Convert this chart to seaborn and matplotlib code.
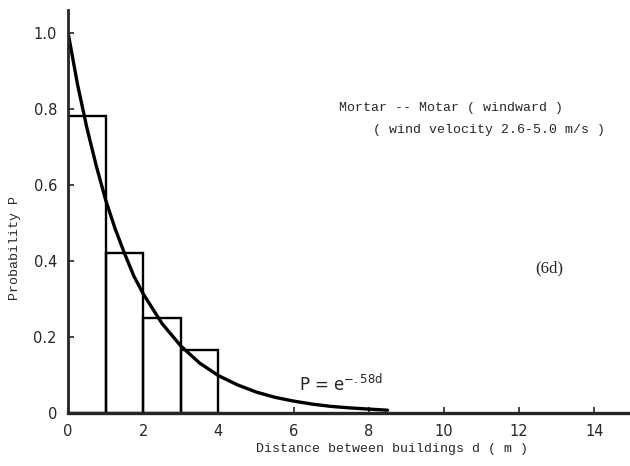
import numpy as np
import pandas as pd
import seaborn as sns
import matplotlib.pyplot as plt

# histogram classes (left edge of each 1 m bin) and observed probability
bin_left = [0, 1, 2, 3]
bin_prob = [0.78, 0.42, 0.25, 0.165]

# fitted curve P = e^-.58d
curve_d = [0, 0.25, 0.5, 0.75, 1, 1.25, 1.5, 1.75, 2, 2.5, 3, 3.5, 4,
           4.5, 5, 5.5, 6, 6.5, 7, 7.5, 8, 8.5]
curve_p = [1.0, 0.865, 0.75, 0.65, 0.56, 0.485, 0.42, 0.36, 0.313, 0.235,
           0.176, 0.131, 0.098, 0.074, 0.055, 0.041, 0.031, 0.023, 0.017,
           0.013, 0.01, 0.007]

x_ticks = [0, 2, 4, 6, 8, 10, 12, 14]
x_labels = ['0', '2', '4', '6', '8', '10', '12', '14']
y_ticks = [0, 0.2, 0.4, 0.6, 0.8, 1.0]
y_labels = ['0', '0.2', '0.4', '0.6', '0.8', '1.0']

sns.set_style('ticks')
plt.rcParams['font.family'] = ['DejaVu Sans']

fig = plt.figure(figsize=(6.3, 4.66), dpi=100)
ax = fig.add_axes([0.108, 0.114, 0.892, 0.865])

# histogram bars
ax.bar(bin_left, bin_prob, width=1, align='edge', fill=False,
       edgecolor='black', linewidth=1.7)

# fitted exponential curve
df = pd.DataFrame({'d': curve_d, 'P': curve_p})
sns.lineplot(data=df, x='d', y='P', ax=ax, color='black', linewidth=2.4)

ax.set_xlim(0, 14.95)
ax.set_ylim(0, 1.06)
ax.set_xticks(x_ticks)
ax.set_xticklabels(x_labels)
ax.set_yticks(y_ticks)
ax.set_yticklabels(y_labels)
ax.tick_params(direction='in', length=4, width=1.2, labelsize=10.5, pad=8)

for side in ['top', 'right']:
    ax.spines[side].set_visible(False)
ax.spines['left'].set_linewidth(2)
ax.spines['bottom'].set_linewidth(2.4)

ax.set_xlabel('Distance between buildings d ( m )', family='Liberation Mono',
              fontsize=9.5)
ax.xaxis.set_label_coords(0.577, -0.075)
ax.set_ylabel('Probability P', family='Liberation Mono', fontsize=9.5)
ax.yaxis.set_label_coords(-0.083, 0.41)

ax.text(0.538, 0.768, 'Mortar -- Motar ( windward )', transform=fig.transFigure,
        family='Liberation Mono', fontsize=9.5, va='center')
ax.text(0.592, 0.721, '( wind velocity 2.6-5.0 m/s )', transform=fig.transFigure,
        family='Liberation Mono', fontsize=9.5, va='center')
ax.text(0.85, 0.425, '(6d)', transform=fig.transFigure,
        family='Liberation Serif', fontsize=12, va='center')
ax.text(0.475, 0.175, r'P = e$^{\mathrm{-.58d}}$', transform=fig.transFigure,
        fontsize=12, va='center')

fig.savefig('out.png', dpi=100)
